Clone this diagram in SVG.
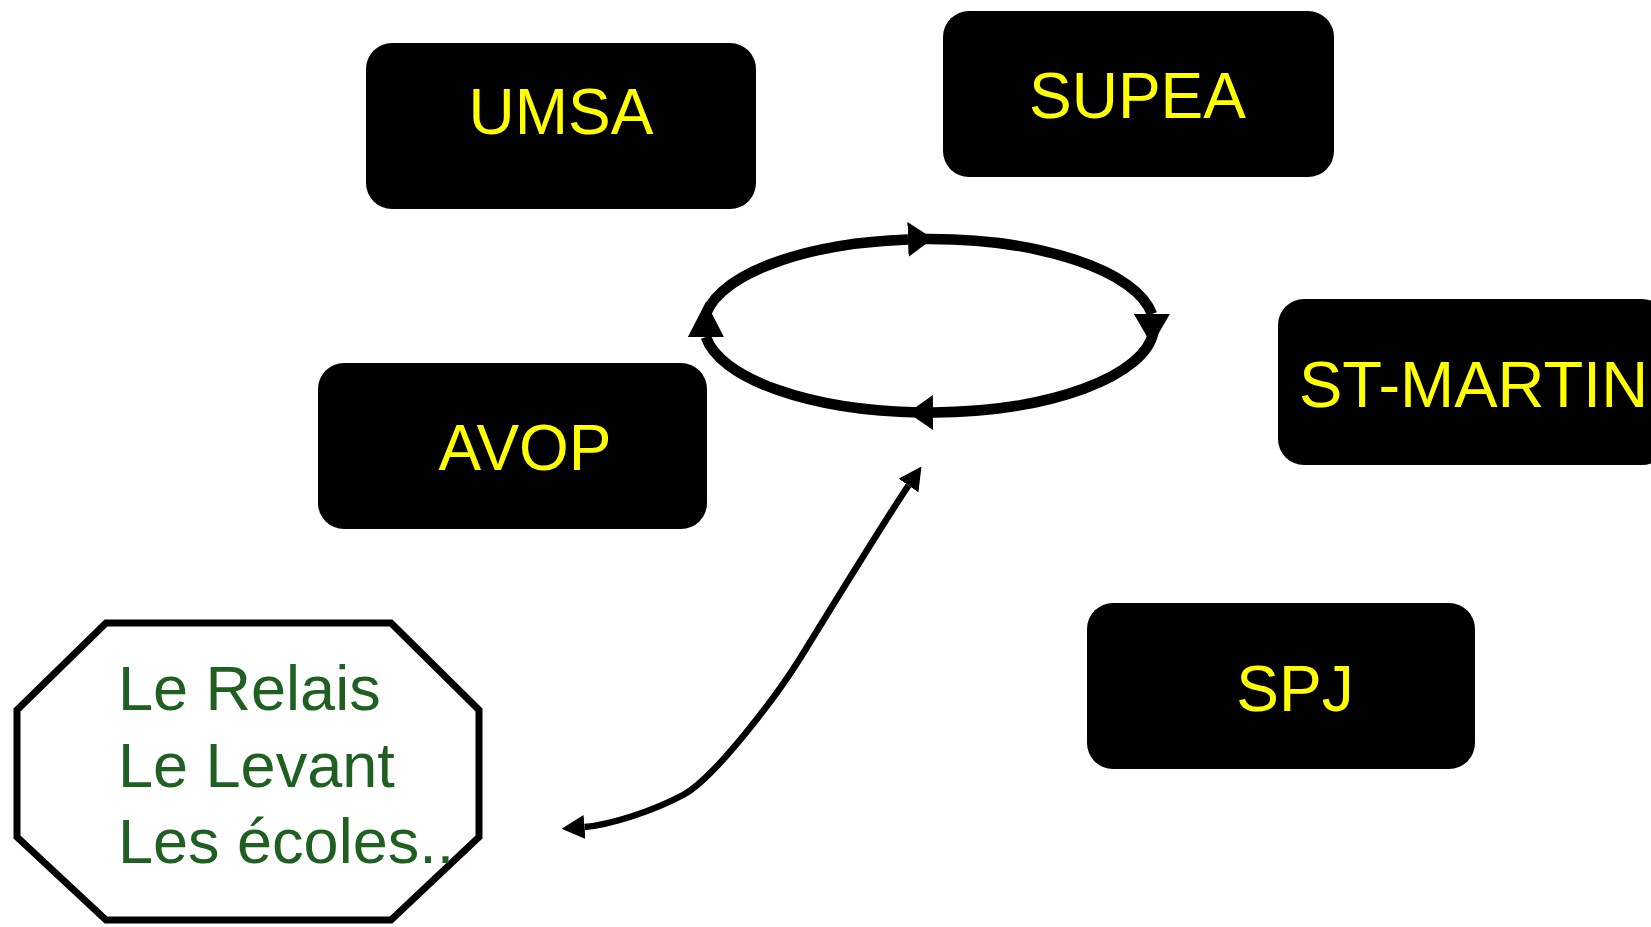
<svg xmlns="http://www.w3.org/2000/svg" width="1651" height="927" viewBox="0 0 1651 927">
<style>
.box{fill:#000;stroke:none}
.lbl{font-family:"Liberation Sans",Arial,sans-serif;font-size:64px;fill:#FFFF00}
.grn{font-family:"Liberation Sans",Arial,sans-serif;font-size:63px;fill:#1F5F22}
.oct{fill:#fff;stroke:#000;stroke-width:7;stroke-linejoin:miter}
.cyc{fill:none;stroke:#000;stroke-width:10.5}
.dbl{fill:none;stroke:#000;stroke-width:6.5}
.head{fill:#000;stroke:none}
</style>
<defs>
<marker id="aTop" markerUnits="userSpaceOnUse" markerWidth="25" markerHeight="35" viewBox="0 0 25 35" refX="0" refY="17.5" orient="auto"><path class="head" d="M0,0 L25,17.5 L0,35 Z"/></marker>
<marker id="aBot" markerUnits="userSpaceOnUse" markerWidth="25" markerHeight="35" viewBox="0 0 25 35" refX="0" refY="17.5" orient="auto"><path class="head" d="M0,0 L25,17.5 L0,35 Z"/></marker>
<marker id="aRight" markerUnits="userSpaceOnUse" markerWidth="31" markerHeight="36" viewBox="0 0 31 36" refX="0" refY="18" orient="90"><path class="head" d="M0,0 L31,18 L0,36 Z"/></marker>
<marker id="aLeft" markerUnits="userSpaceOnUse" markerWidth="35" markerHeight="36" viewBox="0 0 35 36" refX="0" refY="18" orient="270"><path class="head" d="M0,0 L35,18 L0,36 Z"/></marker>
<marker id="aSmall" markerUnits="userSpaceOnUse" markerWidth="23" markerHeight="24" viewBox="0 0 23 24" refX="0" refY="12" orient="auto-start-reverse"><path class="head" d="M0,0 L23,12 L0,24 Z"/></marker>
</defs>

<g id="umsa"><rect class="box" x="366" y="43" width="390" height="166" rx="26"/><text class="lbl" x="561" y="134" text-anchor="middle">UMSA</text></g>
<g id="supea"><rect class="box" x="943" y="11" width="391" height="166" rx="26"/><text class="lbl" x="1137.5" y="118" text-anchor="middle">SUPEA</text></g>
<g id="stmartin"><rect class="box" x="1278" y="299" width="390" height="166" rx="26"/><text class="lbl" x="1299" y="407" style="font-size:65px">ST-MARTIN</text></g>
<g id="avop"><rect class="box" x="318" y="363" width="389" height="166" rx="26"/><text class="lbl" x="525" y="470" text-anchor="middle">AVOP</text></g>
<g id="spj"><rect class="box" x="1087" y="603" width="388" height="166" rx="26"/><text class="lbl" x="1295" y="711" text-anchor="middle">SPJ</text></g>
<g id="ecoles"><polygon class="oct" points="106,623 391,623 479,710 479,837 391,920 106,920 17,837 17,710"/>
<text class="grn" x="118" y="710">Le Relais</text>
<text class="grn" x="118" y="787">Le Levant</text>
<text class="grn" x="118" y="863">Les écoles..</text></g>

<g id="connectors">
<path class="cyc" d="M704.5,320 A225,86.75 0 0 1 908,239.38" marker-end="url(#aTop)"/>
<path class="cyc" d="M922,239.04 A225,86.75 0 0 1 1151.9,314" marker-end="url(#aRight)"/>
<path class="cyc" d="M1153.4,332 A225,86.75 0 0 1 933,412.49" marker-end="url(#aBot)"/>
<path class="cyc" d="M920,412.43 A225,86.75 0 0 1 705.9,337" marker-end="url(#aLeft)"/>
<path class="dbl" d="M584.5,827 C610,825 653,811 683,795 C715,778 777,695 799,660 C830,610 885,520 908.5,485.5" marker-start="url(#aSmall)" marker-end="url(#aSmall)"/>
</g>
</svg>
